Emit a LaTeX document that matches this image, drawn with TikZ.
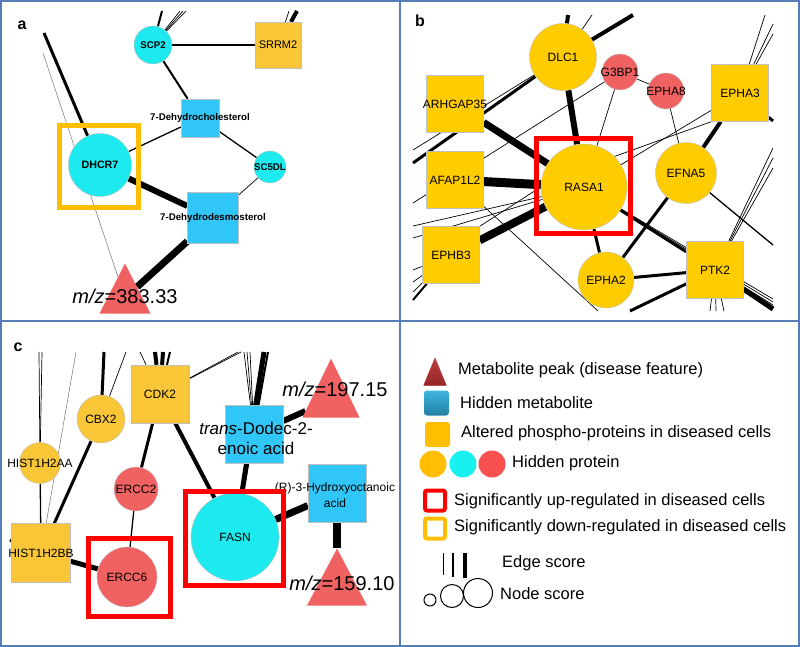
\documentclass[tikz,border=0pt]{standalone}
\usepackage{fontspec}
\setmainfont{Liberation Sans}
\usetikzlibrary{shapes.geometric,backgrounds}

\definecolor{cyannode}{RGB}{28,234,238}
\definecolor{metblue}{RGB}{48,198,248}
\definecolor{goldnode}{RGB}{249,198,56}
\definecolor{yellownode}{RGB}{255,204,0}
\definecolor{rednode}{RGB}{240,98,98}
\definecolor{upred}{RGB}{255,0,0}
\definecolor{downorange}{RGB}{255,190,0}
\definecolor{framecol}{RGB}{84,126,184}
\definecolor{lgred}{RGB}{250,80,80}
\definecolor{lgcyan}{RGB}{25,240,240}

\begin{document}
\begin{tikzpicture}[x=1pt,y=-1pt,
  prot node/.style={circle,draw=black!25,line width=0.4pt,inner sep=0pt},
  box node/.style={rectangle,draw=black!25,line width=0.4pt,inner sep=0pt},
  peak node/.style={isosceles triangle,isosceles triangle stretches,shape border rotate=90,
    fill=rednode,inner sep=0pt,anchor=apex},
  up box/.style={rectangle,draw=upred,line width=5pt,inner sep=0pt},
  down box/.style={rectangle,draw=downorange,line width=5pt,inner sep=0pt},
  panel label/.style={font=\bfseries\fontsize{16}{16}\selectfont},
  mz label/.style={font=\fontsize{20}{22}\selectfont},
  legend text/.style={anchor=west,inner sep=0pt,font=\fontsize{16.5}{18}\selectfont},
  hair/.style={line width=0.5pt,black!55},
  e0/.style={line width=0.7pt},
  e1/.style={line width=1.3pt},
  e2/.style={line width=2pt},
  e3/.style={line width=3pt},
  e4/.style={line width=4pt},
  e5/.style={line width=5pt},
  e6/.style={line width=6pt},
  e7/.style={line width=7pt},
  e8/.style={line width=8pt},
  e9/.style={line width=9pt}]

\useasboundingbox (0,0) rectangle (800,647);

% panel frames
\draw[framecol,line width=1.2pt] (1,1) rectangle (799,646) (400,1) -- (400,646) (1,321) -- (799,321);

% ---------------- panel a
\begin{scope}[every label/.style={font=\bfseries\fontsize{9.7}{10}\selectfont}]
  \node[panel label] (la) at (22,25) {a};
  \node[prot node,fill=cyannode,minimum size=38,label=center:SCP2] (SCP2) at (153,45) {};
  \node[box node,fill=goldnode,minimum size=46,label={[font=\fontsize{11}{11}\selectfont]center:SRRM2}] (SRRM2) at (278,45) {};
  \node[box node,fill=metblue,minimum size=38,label=center:7-Dehydrocholesterol] (DHC) at (200,118) {};
  \node[prot node,fill=cyannode,minimum size=32,label=center:SC5DL] (SC5DL) at (270,167) {};
  \node[prot node,fill=cyannode,minimum size=63,label={[font=\bfseries\fontsize{10.7}{11}\selectfont]center:DHCR7}] (DHCR7) at (100,165) {};
  \node[box node,fill=metblue,minimum size=51,label=center:7-Dehydrodesmosterol] (DHD) at (213,218) {};
  \node[peak node,minimum width=51,minimum height=50] (mzA) at (125,263) {};
  \node[mz label] (mzAtxt) at (125,296) {\textit{m/z}=383.33};
  \node[down box,minimum width=79,minimum height=82] (dhcr7Box) at (99,166.5) {};
\end{scope}

\begin{scope}[on background layer]
  \coordinate (a1) at (44,33);
  \coordinate (a2) at (43,53);
  \coordinate (a3) at (162,11);
  \coordinate (a4) at (180,11);
  \coordinate (a5) at (183,11);
  \coordinate (a6) at (186,11);
  \coordinate (a7) at (297,11);
  \coordinate (a8) at (289,11);
  \path (SCP2) edge[e2] (SRRM2)
               edge[e2] (DHC)
        (DHC) edge[e1] (DHCR7)
              edge[e1] (SC5DL)
        (SC5DL) edge[e0] (DHD)
        (DHCR7) edge[e6] (DHD)
        (DHD) edge[e7] (mzA)
        (a1) edge[e3] (DHCR7)
        (a2) edge[hair] (mzA)
        (a3) edge[e2] (SCP2)
        (a4) edge[e0] (SCP2)
        (a5) edge[e0] (SCP2)
        (a6) edge[e0] (SCP2)
        (a7) edge[e4] (SRRM2)
        (a8) edge[e0] (SRRM2);
\end{scope}

% ---------------- panel b
\begin{scope}[every label/.style={font=\fontsize{12}{13}\selectfont}]
  \node[panel label] (lb) at (420,21) {b};
  \node[prot node,fill=yellownode,minimum size=67,label=center:DLC1] (DLC1) at (563,57) {};
  \node[prot node,fill=rednode,minimum size=36,label=center:G3BP1] (G3BP1) at (620,72) {};
  \node[prot node,fill=rednode,minimum size=36,label=center:EPHA8] (EPHA8) at (666,91) {};
  \node[box node,fill=yellownode,minimum size=57,label=center:EPHA3] (EPHA3) at (740,93) {};
  \node[box node,fill=yellownode,minimum size=57,label=center:ARHGAP35] (ARHGAP35) at (455,104) {};
  \node[box node,fill=yellownode,minimum size=57,label=center:AFAP1L2] (AFAP1L2) at (455,180) {};
  \node[box node,fill=yellownode,minimum size=57,label=center:EPHB3] (EPHB3) at (451,255) {};
  \node[prot node,fill=yellownode,minimum size=86,label=center:RASA1] (RASA1) at (584,187) {};
  \node[prot node,fill=yellownode,minimum size=61,label=center:EFNA5] (EFNA5) at (686,173) {};
  \node[prot node,fill=yellownode,minimum size=56,label=center:EPHA2] (EPHA2) at (606,280) {};
  \node[box node,fill=yellownode,minimum size=57,label=center:PTK2] (PTK2) at (715,270) {};
  \node[up box,minimum size=94] (rasa1Box) at (583,186) {};
\end{scope}

\begin{scope}[on background layer]
  \coordinate (b1) at (568,15);
  \coordinate (b2) at (592,15);
  \coordinate (b3) at (633,15);
  \coordinate (b4) at (413,163);
  \coordinate (b5) at (413,150);
  \coordinate (b6) at (413,203);
  \coordinate (b7) at (413,226);
  \coordinate (b8) at (413,238);
  \coordinate (b9) at (413,270);
  \coordinate (b10) at (413,282);
  \coordinate (b11) at (413,292);
  \coordinate (b12) at (413,300);
  \coordinate (b13) at (598,311);
  \coordinate (b14) at (765,15);
  \coordinate (b15) at (773,24);
  \coordinate (b16) at (773,34);
  \coordinate (b17) at (773,121);
  \coordinate (b18) at (773,245);
  \coordinate (b19) at (773,148);
  \coordinate (b20) at (773,158);
  \coordinate (b21) at (773,168);
  \coordinate (b22) at (773,299);
  \coordinate (b23) at (773,302);
  \coordinate (b24) at (773,305);
  \coordinate (b25) at (773,309);
  \coordinate (b26) at (630,311);
  \coordinate (b27) at (710,311);
  \coordinate (b28) at (716,311);
  \coordinate (b29) at (724,311);
  \path (DLC1) edge[e6] (RASA1)
        (ARHGAP35) edge[e7] (RASA1)
        (AFAP1L2) edge[e9] (RASA1)
        (EPHB3) edge[e8] (RASA1)
        (EPHB3.north east) edge[e0] (RASA1.west)
        (RASA1) edge[e3] (EPHA2)
                edge[e3] (PTK2)
                edge[e0] (G3BP1)
                edge[e0] (EPHA3)
        (RASA1.north east) edge[e0] (EPHA3.south west)
        (EPHA2) edge[e3] (PTK2)
                edge[e3] (EFNA5)
        (EFNA5) edge[e4] (EPHA3)
                edge[e0] (EPHA8)
        (G3BP1) edge[e0] (EPHA8)
        (b1) edge[e4] (DLC1)
        (b2) edge[e0] (DLC1)
        (b3) edge[e4] (DLC1)
        (b4) edge[e3] (DLC1)
        (b5) edge[e0] (DLC1)
        (b6) edge[e0] (G3BP1)
        (b7) edge[e0] (RASA1)
        (b8) edge[e0] (RASA1)
        (b9) edge[e0] (EPHB3)
        (b10) edge[e0] (EPHB3)
        (b11) edge[e0] (EPHB3)
        (b12) edge[e2] (EPHB3)
        (b13) edge[e0] (AFAP1L2)
        (b14) edge[e0] (EPHA3)
        (b15) edge[e0] (EPHA3)
        (b16) edge[e0] (EPHA3)
        (b17) edge[e3] (EPHA3)
        (b18) edge[e1] (EFNA5)
        (b19) edge[e0] (PTK2)
        (b20) edge[e0] (PTK2)
        (b21) edge[e0] (PTK2)
        (b22) edge[e0] (RASA1)
        (b23) edge[e0] (RASA1)
        (b24) edge[e0] (RASA1)
        (b25) edge[e5] (PTK2)
        (b26) edge[e3] (PTK2)
        (b27) edge[e0] (PTK2)
        (b28) edge[e0] (PTK2)
        (b29) edge[e0] (PTK2);
\end{scope}

% ---------------- panel c
\begin{scope}[every label/.style={font=\fontsize{12}{13}\selectfont}]
  \node[panel label] (lc) at (18,347) {c};
  \node[box node,fill=goldnode,minimum size=58,label=center:CDK2] (CDK2) at (160,394) {};
  \node[prot node,fill=goldnode,minimum size=48,label=center:CBX2] (CBX2) at (101,419) {};
  \node[prot node,fill=goldnode,minimum size=41,label=center:HIST1H2AA] (HIST1H2AA) at (40,463) {};
  \node[prot node,fill=rednode,minimum size=44,label=center:ERCC2] (ERCC2) at (136,489) {};
  \node[box node,fill=goldnode,minimum size=59,label=center:HIST1H2BB] (HIST1H2BB) at (41,553) {};
  \node[prot node,fill=rednode,minimum size=60,label=center:ERCC6] (ERCC6) at (127,577) {};
  \node[prot node,fill=cyannode,minimum size=88,label=center:FASN] (FASN) at (235,537) {};
  \node[box node,fill=metblue,minimum size=58] (TDA) at (254,434) {};
  \node[box node,fill=metblue,minimum size=58] (HOA) at (337,493) {};
  \node[peak node,minimum width=57,minimum height=59] (mzB) at (331,358) {};
  \node[peak node,minimum width=60,minimum height=57] (mzC) at (337,548) {};
  \node[font=\fontsize{17}{20}\selectfont,align=center] (tdaTxt) at (256,438) {\textit{trans}-Dodec-2-\\enoic acid};
  \node[font=\fontsize{12}{16}\selectfont,align=center] (hoaTxt) at (335,495) {(R)-3-Hydroxyoctanoic\\acid};
  \node[mz label] (mzBtxt) at (335,389) {\textit{m/z}=197.15};
  \node[mz label] (mzCtxt) at (342,583) {\textit{m/z}=159.10};
  \node[up box,minimum width=82,minimum height=78] (ercc6Box) at (129.5,577.5) {};
  \node[up box,minimum width=98,minimum height=94] (fasnBox) at (234.5,538.5) {};
\end{scope}

\begin{scope}[on background layer]
  \coordinate (c1) at (39,352);
  \coordinate (c2) at (42,352);
  \coordinate (c3) at (76,352);
  \coordinate (c4) at (104,352);
  \coordinate (c5) at (126,352);
  \coordinate (c6) at (140,352);
  \coordinate (c7) at (155,352);
  \coordinate (c8) at (163,352);
  \coordinate (c9) at (170,352);
  \coordinate (c10) at (238,352);
  \coordinate (c11) at (241,352);
  \coordinate (c12) at (244,352);
  \coordinate (c13) at (247,352);
  \coordinate (c14) at (250,352);
  \coordinate (c15) at (264,352);
  \coordinate (c16) at (268,352);
  \coordinate (c17) at (10,540);
  \path (CDK2) edge[e4] (FASN)
               edge[e3] (ERCC2)
        (ERCC2) edge[e1] (ERCC6)
        (HIST1H2BB) edge[e5] (ERCC6)
        (HIST1H2AA) edge[e1] (HIST1H2BB)
        (CBX2) edge[e3] (HIST1H2BB)
        (FASN) edge[e7] (HOA)
        (TDA) edge[e6] (mzB)
        (HOA) edge[e8] (mzC)
        (c1) edge[e0] (HIST1H2AA)
        (c2) edge[e0] (HIST1H2AA)
        (c3) edge[hair] (HIST1H2BB)
        (c4) edge[e3] (CBX2)
        (c5) edge[e0] (CBX2)
        (c6) edge[e0] (CDK2)
        (c7) edge[e4] (CDK2)
        (c8) edge[e4] (CDK2)
        (c9) edge[e2] (CDK2)
        (c10) edge[e0] (CDK2)
        (c11) edge[e0] (CDK2)
        (c12) edge[e0] (TDA)
        (c13) edge[e0] (TDA)
        (c14) edge[e0] (TDA)
        (c15) edge[e5] (FASN)
        (c16) edge[e2] (FASN)
        (c17) edge[e3] (HIST1H2BB);
\end{scope}

% ---------------- legend
\node[peak node,minimum width=23,minimum height=28,top color={rgb,255:red,190;green,62;blue,62},bottom color={rgb,255:red,150;green,38;blue,38}] (lgPeak) at (435,357) {};
\node[legend text] (lgPeakTxt) at (458,370) {Metabolite peak (disease feature)};
\node[rectangle,rounded corners=3pt,minimum size=25,top color={rgb,255:red,62;green,182;blue,222},bottom color={rgb,255:red,36;green,128;blue,164}] (lgMet) at (436.5,403) {};
\node[legend text] (lgMetTxt) at (460,403) {Hidden metabolite};
\node[rectangle,rounded corners=3pt,minimum size=25,fill=downorange] (lgPhos) at (437.5,434.5) {};
\node[legend text] (lgPhosTxt) at (461,433) {Altered phospho-proteins in diseased cells};
\node[circle,minimum size=27,fill=downorange] (lgP1) at (433,464) {};
\node[circle,minimum size=27,fill=lgcyan] (lgP2) at (463,464) {};
\node[circle,minimum size=27,fill=lgred] (lgP3) at (492,464) {};
\node[legend text] (lgProtTxt) at (512,463) {Hidden protein};
\node[rectangle,rounded corners=2pt,draw=upred,line width=4pt,minimum size=20] (lgUp) at (435,500.5) {};
\node[legend text] (lgUpTxt) at (454,501) {Significantly up-regulated in diseased cells};
\node[rectangle,rounded corners=2pt,draw=downorange,line width=4pt,minimum size=20] (lgDown) at (435,528.5) {};
\node[legend text] (lgDownTxt) at (454,527) {Significantly down-regulated in diseased cells};
\draw[line width=1pt] (443,553) -- (443,575);
\draw[line width=2pt] (453,553) -- (453,577);
\draw[line width=3.5pt] (465,553) -- (465,578);
\node[legend text] (lgEdgeTxt) at (502,563) {Edge score};
\node[circle,draw,line width=1pt,minimum size=12] (lgN1) at (430,600) {};
\node[circle,draw,line width=1pt,minimum size=23] (lgN2) at (452,596) {};
\node[circle,draw,line width=1pt,minimum size=29] (lgN3) at (478,593) {};
\node[legend text] (lgNodeTxt) at (500,594) {Node score};
\end{tikzpicture}
\end{document}
